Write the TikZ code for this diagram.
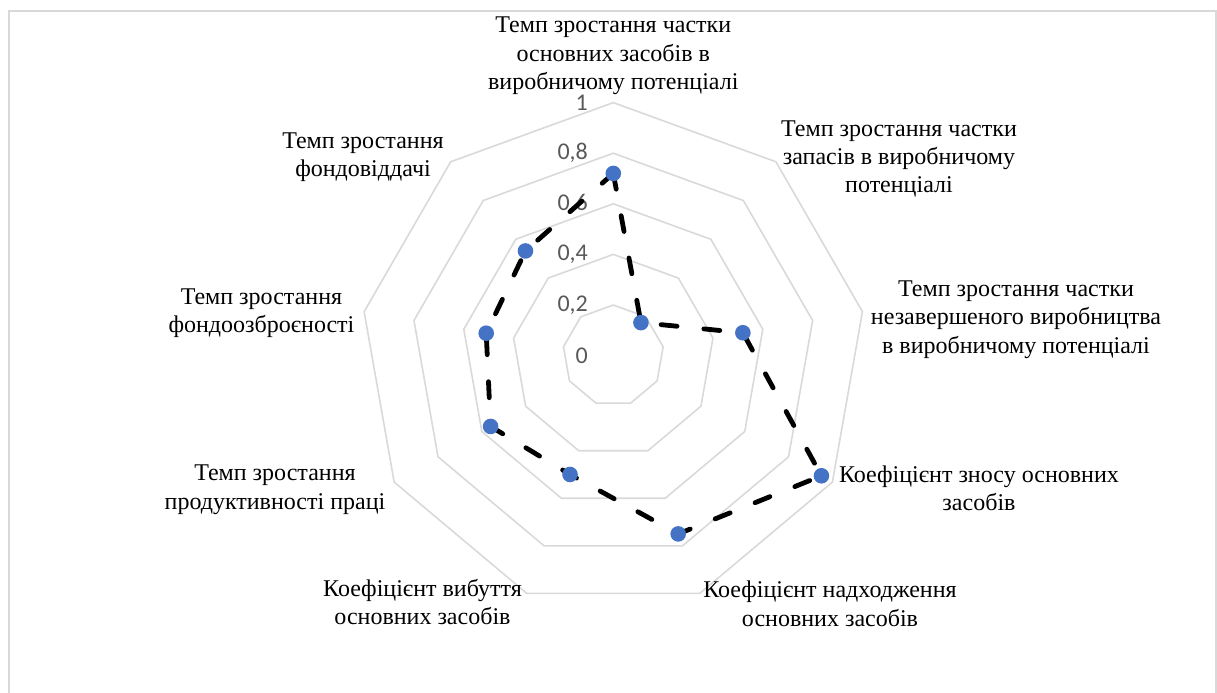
\documentclass[tikz,border=0pt]{standalone}
\usepackage{fontspec}
\setmainfont{Liberation Serif}
\newfontfamily\tickfont{Carlito}
\usepackage{tikz}
\usetikzlibrary{calc}
\definecolor{ringgray}{HTML}{D9D9D9}
\definecolor{ticktext}{HTML}{595959}
\definecolor{dotblue}{HTML}{4472C4}
\def\R{253}
\def\ring#1{\draw[ringline] (90:#1) -- (130:#1) -- (170:#1) -- (210:#1) -- (250:#1) -- (290:#1) -- (330:#1) -- (10:#1) -- (50:#1) -- cycle;}

\begin{document}
\begin{tikzpicture}[x=0.5pt, y=0.5pt,
		ringline/.style={line width=0.8pt, color=ringgray, line join=round},
		ticklabel/.style={anchor=east, inner sep=0pt, color=ticktext, font=\tickfont\fontsize{12}{14}\selectfont},
		catlabel/.style={align=center, inner sep=0pt, font=\fontsize{12}{14.2}\selectfont},
		series/.style={line width=2.4pt, line cap=round, line join=round, dash pattern=on 8pt off 13.5pt},
		dot/.style={circle, fill=dotblue, inner sep=0pt, minimum size=7.8pt}]
		%%%%% START %%%%%
		
		\useasboundingbox (-613.3, -336.4) rectangle (603.7, 355.6);
		\draw[line width=1pt, color=ringgray] (-603.8, -350) -- (-603.8, 344.6) -- (602.4, 344.6) -- (602.4, -350);
		
		\ring{50.6}
		\ring{101.2}
		\ring{151.8}
		\ring{202.4}
		\ring{253}
		
		\node[ticklabel] (v0) at (-25, 0) {0};
		\node[ticklabel] (v2) at (-25, 50.6) {0,2};
		\node[ticklabel] (v4) at (-25, 101.2) {0,4};
		\node[ticklabel] (v6) at (-25, 151.8) {0,6};
		\node[ticklabel] (v8) at (-25, 202.4) {0,8};
		\node[ticklabel] (v10) at (-25, 253) {1};
		
		\coordinate (p1) at (90:{0.72*\R});
		\coordinate (p2) at (50:{0.17*\R});
		\coordinate (p3) at (10:{0.52*\R});
		\coordinate (p4) at (-30:{0.95*\R});
		\coordinate (p5) at (-70:{0.75*\R});
		\coordinate (p6) at (-110:{0.50*\R});
		\coordinate (p7) at (-150:{0.56*\R});
		\coordinate (p8) at (170:{0.51*\R});
		\coordinate (p9) at (130:{0.54*\R});
		
		\draw[series] (p1) -- (p2) -- (p3) -- (p4) -- (p5) -- (p6) -- (p7) -- (p8) -- (p9) -- cycle;
		
		\node[dot] (m1) at (p1) {};
		\node[dot] (m2) at (p2) {};
		\node[dot] (m3) at (p3) {};
		\node[dot] (m4) at (p4) {};
		\node[dot] (m5) at (p5) {};
		\node[dot] (m6) at (p6) {};
		\node[dot] (m7) at (p7) {};
		\node[dot] (m8) at (p8) {};
		\node[dot] (m9) at (p9) {};
		
		\node[catlabel] (osnovni) at (0, 299.6) {Темп зростання частки\\основних засобів в\\виробничому потенціалі};
		\node[catlabel] (zapasy) at (285.7, 196.6) {Темп зростання частки\\запасів в виробничому\\потенціалі};
		\node[catlabel] (nezav) at (402.7, 36.1) {Темп зростання частки\\незавершеного виробництва\\в виробничому потенціалі};
		\node[catlabel] (znos) at (365.7, -132.4) {Коефіцієнт зносу основних\\засобів};
		\node[catlabel] (nadkh) at (216.7, -248) {Коефіцієнт надходження\\основних засобів};
		\node[catlabel] (vybut) at (-190.8, -246.4) {Коефіцієнт вибуття\\основних засобів};
		\node[catlabel] (produkt) at (-338.3, -134) {Темп зростання\\продуктивності праці};
		\node[catlabel] (fondoozbr) at (-351.8, 42.6) {Темп зростання\\фондоозброєності};
		\node[catlabel] (fondovid) at (-250.3, 198.6) {Темп зростання\\фондовіддачі};
		
		%%%%% END %%%%%
	\end{tikzpicture}
\end{document}
